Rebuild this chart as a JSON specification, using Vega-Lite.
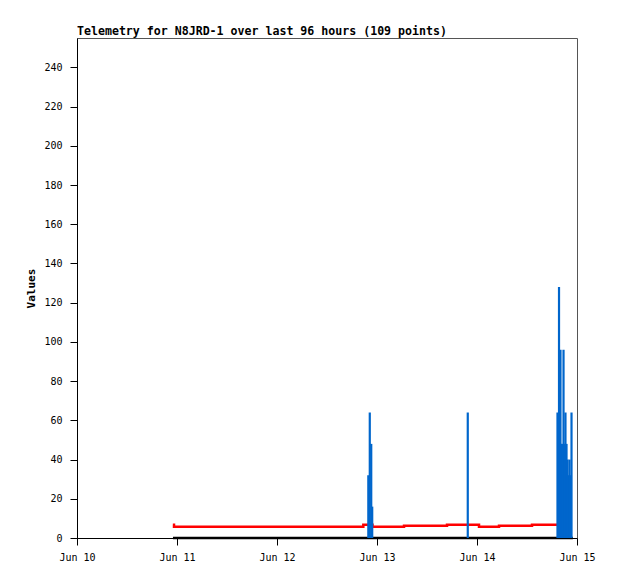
{
  "$schema": "https://vega.github.io/schema/vega-lite/v6.json",
  "width": 500,
  "height": 500,
  "autosize": {"type": "none"},
  "padding": {"left": 77, "top": 38, "right": 41, "bottom": 41},
  "background": "white",
  "title": {
    "text": "Telemetry for N8JRD-1 over last 96 hours (109 points)",
    "anchor": "start",
    "frame": "group",
    "font": "DejaVu Sans Mono",
    "fontSize": 11.6,
    "fontWeight": "bold",
    "color": "black",
    "offset": 0
  },
  "config": {
    "view": {"stroke": "#555", "strokeWidth": 1},
    "axis": {
      "grid": false,
      "domainColor": "black",
      "tickColor": "black",
      "labelFont": "DejaVu Sans Mono",
      "labelFontSize": 10,
      "labelColor": "black",
      "titleFont": "DejaVu Sans Mono",
      "titleFontSize": 11,
      "titleFontWeight": "bold",
      "titleColor": "black"
    }
  },
  "datasets": {
    "base": [
      {"t": "2024-06-10T23:02:00Z", "v": 0},
      {"t": "2024-06-14T23:00:00Z", "v": 0}
    ],
    "red": [
      {"t": "2024-06-10T23:00:00Z", "v": 6.8},
      {"t": "2024-06-10T23:17:00Z", "v": 5.8},
      {"t": "2024-06-12T20:43:00Z", "v": 6.8},
      {"t": "2024-06-12T22:55:00Z", "v": 5.7},
      {"t": "2024-06-13T06:29:00Z", "v": 6.2},
      {"t": "2024-06-13T16:48:00Z", "v": 6.7},
      {"t": "2024-06-14T00:29:00Z", "v": 5.7},
      {"t": "2024-06-14T05:17:00Z", "v": 6.2},
      {"t": "2024-06-14T13:12:00Z", "v": 6.7},
      {"t": "2024-06-14T19:20:00Z", "v": 6.7}
    ],
    "blue": [
      {"t": "2024-06-12T21:55:00Z", "v": 32},
      {"t": "2024-06-12T22:16:00Z", "v": 64},
      {"t": "2024-06-12T22:37:00Z", "v": 48},
      {"t": "2024-06-12T22:51:00Z", "v": 16},
      {"t": "2024-06-13T21:47:00Z", "v": 64},
      {"t": "2024-06-14T19:19:00Z", "v": 64},
      {"t": "2024-06-14T19:41:00Z", "v": 128},
      {"t": "2024-06-14T20:02:00Z", "v": 96},
      {"t": "2024-06-14T20:17:00Z", "v": 48},
      {"t": "2024-06-14T20:31:00Z", "v": 48},
      {"t": "2024-06-14T20:46:00Z", "v": 96},
      {"t": "2024-06-14T21:00:00Z", "v": 48},
      {"t": "2024-06-14T21:14:00Z", "v": 64},
      {"t": "2024-06-14T21:29:00Z", "v": 48},
      {"t": "2024-06-14T21:43:00Z", "v": 40},
      {"t": "2024-06-14T21:58:00Z", "v": 32},
      {"t": "2024-06-14T22:12:00Z", "v": 40},
      {"t": "2024-06-14T22:26:00Z", "v": 32},
      {"t": "2024-06-14T22:41:00Z", "v": 64}
    ]
  },
  "encoding": {
    "x": {
      "field": "t",
      "type": "temporal",
      "scale": {
        "type": "utc",
        "domain": [
          {"year": 2024, "month": 6, "date": 10, "utc": true},
          {"year": 2024, "month": 6, "date": 15, "utc": true}
        ]
      },
      "axis": {
        "title": null,
        "labelExpr": "utcFormat(datum.value, '%b %d')",
        "tickCount": 5,
        "tickSize": 7,
        "labelPadding": 7,
        "labelFlush": false,
        "labelOverlap": false
      }
    },
    "y": {
      "field": "v",
      "type": "quantitative",
      "scale": {"domain": [0, 255], "nice": false},
      "axis": {
        "title": "Values",
        "values": [0, 20, 40, 60, 80, 100, 120, 140, 160, 180, 200, 220, 240],
        "tickSize": 7,
        "labelPadding": 8,
        "titlePadding": 7
      }
    }
  },
  "layer": [
    {
      "data": {"name": "base"},
      "mark": {"type": "line", "color": "black", "strokeWidth": 2.5},
      "encoding": {}
    },
    {
      "data": {"name": "red"},
      "mark": {"type": "line", "color": "#ff0000", "strokeWidth": 2.5, "interpolate": "step-after"},
      "encoding": {}
    },
    {
      "data": {"name": "blue"},
      "mark": {"type": "rule", "color": "#0066cc", "strokeWidth": 2.2},
      "encoding": {"y2": {"datum": 0}}
    }
  ]
}
